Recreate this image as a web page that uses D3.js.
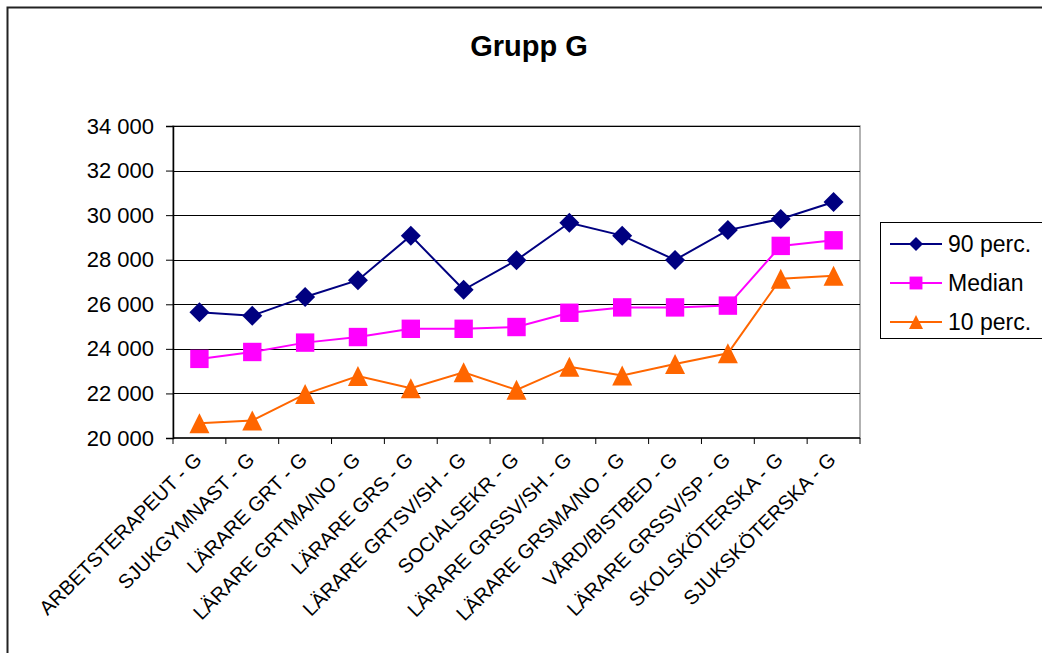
<!DOCTYPE html>
<html>
<head>
<meta charset="utf-8">
<script src="https://cdn.jsdelivr.net/npm/d3@7"></script>
<style>
  body { margin: 0; background: #fff; }
  svg { display: block; font-family: "Liberation Sans", Arial, sans-serif; }
</style>
</head>
<body>
<svg id="chart" width="1042" height="653"></svg>
<script>
// Salary percentiles per occupation, group G
const categories = [
  "ARBETSTERAPEUT - G", "SJUKGYMNAST - G", "LÄRARE GRT - G", "LÄRARE GRTMA/NO - G",
  "LÄRARE GRS - G", "LÄRARE GRTSV/SH - G", "SOCIALSEKR - G", "LÄRARE GRSSV/SH - G",
  "LÄRARE GRSMA/NO - G", "VÅRD/BISTBED - G", "LÄRARE GRSSV/SP - G",
  "SKOLSKÖTERSKA - G", "SJUKSKÖTERSKA - G"
];
const p90 = [25640, 25490, 26330, 27080, 29080, 26650, 27980, 29660, 29080, 27990, 29330, 29830, 30590];
const median = [23550, 23860, 24280, 24530, 24900, 24900, 24980, 25620, 25860, 25860, 25940, 28620, 28870];
const p10 = [20660, 20790, 21970, 22780, 22230, 22950, 22160, 23200, 22810, 23320, 23800, 27150, 27280];
const yTicks = [20000, 22000, 24000, 26000, 28000, 30000, 32000, 34000];
const seriesNames = ["90 perc.", "Median", "10 perc."];

// marker shapes: r is the half-extent in pixels
const diamond = { draw(ctx, r) { ctx.moveTo(0, -r); ctx.lineTo(r, 0); ctx.lineTo(0, r); ctx.lineTo(-r, 0); ctx.closePath(); } };
const square = { draw(ctx, r) { ctx.rect(-r, -r, 2 * r, 2 * r); } };
const triangle = { draw(ctx, r) { ctx.moveTo(0, -r); ctx.lineTo(r, r); ctx.lineTo(-r, r); ctx.closePath(); } };

const series = [
  { name: seriesNames[0], values: p90, color: "#000080", symbol: diamond, r: 10 },
  { name: seriesNames[1], values: median, color: "#FF00FF", symbol: square, r: 9.2 },
  { name: seriesNames[2], values: p10, color: "#FF6600", symbol: triangle, r: 10 }
];

const svg = d3.select("#chart");
const plot = { left: 173, right: 860, top: 126, bottom: 438 };

// outer chart frame
svg.append("rect")
  .attr("x", 7.5).attr("y", 7.5)
  .attr("width", 1100).attr("height", 700)
  .attr("fill", "#fff").attr("stroke", "#222").attr("stroke-width", 2);

svg.append("text")
  .attr("x", 529).attr("y", 56)
  .attr("text-anchor", "middle")
  .attr("font-size", 29).attr("font-weight", "bold")
  .text("Grupp G");

const x = d3.scaleBand().domain(categories).range([plot.left, plot.right]);
const y = d3.scaleLinear().domain([20000, 34000]).range([plot.bottom, plot.top]);

// plot area border
svg.append("rect")
  .attr("x", plot.left).attr("y", plot.top)
  .attr("width", plot.right - plot.left).attr("height", plot.bottom - plot.top)
  .attr("fill", "none").attr("stroke", "#999").attr("stroke-width", 1.5);

// horizontal grid
svg.append("g").selectAll("line").data(yTicks.slice(1))
  .join("line")
  .attr("x1", plot.left).attr("x2", plot.right)
  .attr("y1", d => Math.round(y(d)) + 0.5).attr("y2", d => Math.round(y(d)) + 0.5)
  .attr("stroke", "#000").attr("stroke-width", 1);

// y axis
const fmt = d => d3.format(",")(d).replace(",", " ");
const yAxis = svg.append("g")
  .attr("transform", `translate(${plot.left},0)`)
  .call(d3.axisLeft(y).tickValues(yTicks).tickFormat(fmt).tickSize(7).tickPadding(12));
yAxis.attr("font-size", null).attr("font-family", null);
yAxis.selectAll("text").attr("font-size", 22).attr("fill", "#000");
yAxis.selectAll("line, path").attr("stroke", "#000");
yAxis.select(".domain").attr("stroke-width", 1.5);

// x axis with ticks at band edges
const xAxisG = svg.append("g").attr("transform", `translate(0,${plot.bottom})`);
xAxisG.append("line")
  .attr("x1", plot.left).attr("x2", plot.right)
  .attr("stroke", "#000").attr("stroke-width", 1.5);
const edges = categories.map(c => x(c)).concat([plot.right]);
xAxisG.selectAll("line.tick").data(edges).join("line")
  .attr("class", "tick")
  .attr("x1", d => d).attr("x2", d => d)
  .attr("y1", 0).attr("y2", 6)
  .attr("stroke", "#000");
xAxisG.selectAll("text").data(categories).join("text")
  .attr("transform", d => `translate(${x(d) + x.bandwidth() / 2 + 3.5},${23}) rotate(-45)`)
  .attr("text-anchor", "end")
  .attr("font-size", 20)
  .text(d => d);

// series lines and markers
const cx = i => x(categories[i]) + x.bandwidth() / 2;
series.forEach(s => {
  const line = d3.line().x((d, i) => cx(i)).y(d => y(d));
  svg.append("path")
    .datum(s.values)
    .attr("d", line)
    .attr("fill", "none")
    .attr("stroke", s.color)
    .attr("stroke-width", 2);
  svg.append("g").selectAll("path").data(s.values).join("path")
    .attr("transform", (d, i) => `translate(${cx(i)},${y(d)})`)
    .attr("d", d3.symbol().type(s.symbol).size(s.r))
    .attr("fill", s.color);
});

// legend
const lg = svg.append("g");
lg.append("rect")
  .attr("x", 880.5).attr("y", 222.5).attr("width", 170).attr("height", 116)
  .attr("fill", "#fff").attr("stroke", "#000");
series.forEach((s, i) => {
  const ly = 244 + i * 39;
  lg.append("line")
    .attr("x1", 890).attr("x2", 942).attr("y1", ly).attr("y2", ly)
    .attr("stroke", s.color).attr("stroke-width", 2);
  lg.append("path")
    .attr("transform", `translate(916,${ly})`)
    .attr("d", d3.symbol().type(s.symbol).size(s.r * 0.7))
    .attr("fill", s.color);
  lg.append("text")
    .attr("x", 948).attr("y", ly + 8)
    .attr("font-size", 23)
    .text(s.name);
});
</script>
</body>
</html>
